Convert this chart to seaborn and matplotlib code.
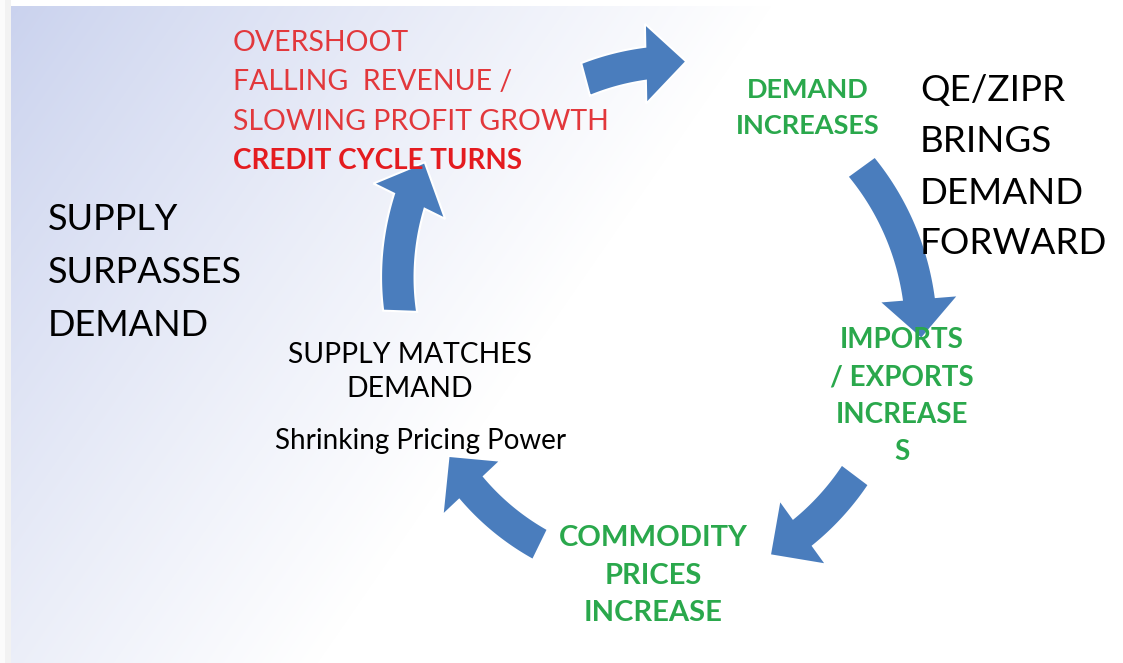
import numpy as np
import matplotlib
matplotlib.use("Agg")
import matplotlib.pyplot as plt
from matplotlib.patches import Polygon
import seaborn as sns

sns.set_theme(style="white")
plt.rcParams['font.family'] = ['Lato', 'DejaVu Sans']

# Cycle diagram data (pixel space of the 1123x663 canvas, y pointing down)
cycle_center = (650, 320)
arrow_start_deg = [255, 324, 37, 116, 182]
arrow_end_deg = [278, 364, 63, 146, 215]
arrow_start_r = [249, 261, 257, 250, 250]
arrow_end_r = [261, 272, 264, 243, 275]

red_lines = ["OVERSHOOT", "FALLING  REVENUE /", "SLOWING PROFIT GROWTH"]
red_bold_line = "CREDIT CYCLE TURNS"
demand_lines = ["DEMAND", "INCREASES"]
qe_lines = ["QE/ZIPR", "BRINGS", "DEMAND", "FORWARD"]
surplus_lines = ["SUPPLY", "SURPASSES", "DEMAND"]
match_lines = ["SUPPLY MATCHES", "DEMAND"]
pricing_line = "Shrinking Pricing Power"
trade_lines = ["IMPORTS", "/ EXPORTS", "INCREASE", "S"]
commodity_lines = ["COMMODITY", "PRICES", "INCREASE"]

arrow_color = "#4a7dbd"
red = "#e2383c"
red_bold = "#e41b1f"
green = "#2aa84c"

W, H = 1123, 663
fig = plt.figure(figsize=(W / 100, H / 100), dpi=100)
ax = fig.add_axes([0, 0, 1, 1])
ax.set_xlim(0, W)
ax.set_ylim(H, 0)
ax.axis("off")

# background: blue-lavender gradient fading to white toward the right
xx, yy = np.meshgrid(np.arange(W), np.arange(H))
t = np.clip((xx - 11) / 760 + (yy - 6) / 1100, 0, 1) ** 0.9
blue = np.array([0.792, 0.824, 0.933])
img = blue[None, None, :] * (1 - t[..., None]) + np.ones(3)[None, None, :] * t[..., None]
img[:6, :, :] = 1.0
img[:, :11, :] = 1.0
ax.imshow(img, extent=(0, W, H, 0), aspect="auto", zorder=0)
# faint shadow on the left edge
ax.axvspan(0, 11, color="#f2f2f2", zorder=0.5, lw=0)
ax.axvspan(0, 5, color="#fbfbfb", zorder=0.6, lw=0)


def curved_arrow(a0, a1, r0, r1, shaft=34, head_w=80, head_len=40):
    cx, cy = cycle_center
    r_mid = (r0 + r1) / 2
    a0r, a1r = np.radians(a0), np.radians(a1)
    head_ang = head_len / r_mid * np.sign(a1r - a0r)
    ah = a1r - head_ang
    ang = np.linspace(a0r, ah, 40)
    rr = r0 + (r1 - r0) * (ang - a0r) / (a1r - a0r)
    outer = np.c_[cx + (rr + shaft / 2) * np.cos(ang), cy + (rr + shaft / 2) * np.sin(ang)]
    inner = np.c_[cx + (rr - shaft / 2) * np.cos(ang), cy + (rr - shaft / 2) * np.sin(ang)]
    rh = rr[-1]
    head = np.array([
        [cx + (rh + head_w / 2) * np.cos(ah), cy + (rh + head_w / 2) * np.sin(ah)],
        [cx + r1 * np.cos(a1r), cy + r1 * np.sin(a1r)],
        [cx + (rh - head_w / 2) * np.cos(ah), cy + (rh - head_w / 2) * np.sin(ah)],
    ])
    pts = np.vstack([outer, head, inner[::-1]])
    ax.add_patch(Polygon(pts, closed=True, fc=arrow_color, ec="white", lw=1.5, zorder=2))


for a0, a1, r0, r1 in zip(arrow_start_deg, arrow_end_deg, arrow_start_r, arrow_end_r):
    curved_arrow(a0, a1, r0, r1)


def lines(txt, x, y0, dy, ha="left", **kw):
    for i, s in enumerate(txt):
        ax.text(x, y0 + i * dy, s, ha=ha, va="center", zorder=3, **kw)


lines(red_lines, 233, 43, 39.5, color=red, fontsize=20.5)
ax.text(233, 161, red_bold_line, ha="left", va="center", color=red_bold,
        fontsize=20, fontweight="bold", zorder=3)
lines(demand_lines, 808, 90, 36, ha="center", color=green, fontsize=19.5, fontweight="bold")
lines(qe_lines, 920, 91, 51, color="black", fontsize=26.5)
lines(surplus_lines, 48, 219, 53.5, color="black", fontsize=26)
lines(match_lines, 410, 355, 34, ha="center", color="black", fontsize=20.3)
ax.text(421, 441, pricing_line, ha="center", va="center", color="black", fontsize=20, zorder=3)
lines(trade_lines, 902, 340, 37.5, ha="center", color=green, fontsize=20, fontweight="bold")
lines(commodity_lines, 653, 538, 37.5, ha="center", color=green, fontsize=21, fontweight="bold")

fig.savefig("out.png", dpi=100)
